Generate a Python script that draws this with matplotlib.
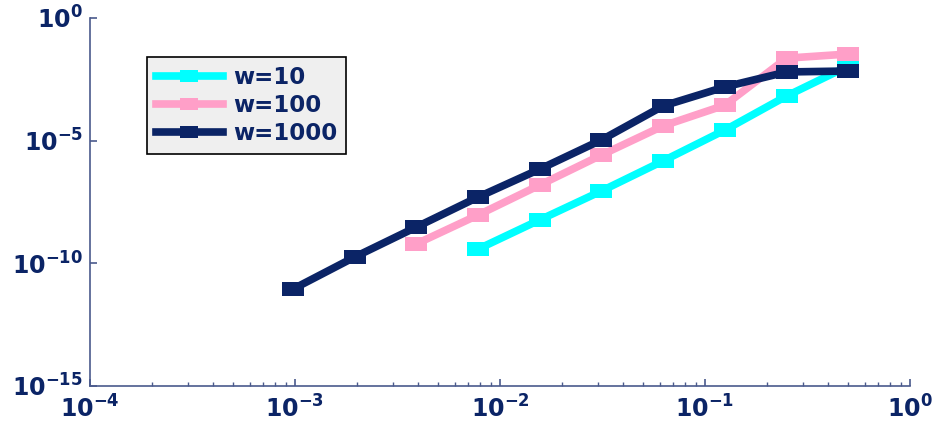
"""
Log-log convergence plot for three weights.
"""

import matplotlib as mpl

mpl.use("Agg")

import matplotlib.pyplot as plt
import numpy as np
from matplotlib.ticker import FuncFormatter, LogLocator, NullFormatter

# step sizes h = 0.5 / 2^k
h_values = [0.5, 0.25, 0.125, 0.0625, 0.03125, 0.015625,
            0.0078125, 0.00390625, 0.001953125, 0.0009765625]

err_w10 = [1.1e-2, 6.6e-4, 2.7e-5, 1.5e-6, 8.9e-8, 5.9e-9, 3.8e-10]
err_w100 = [3.4e-2, 2.3e-2, 2.8e-4, 4.0e-5, 2.6e-6, 1.55e-7, 9.3e-9, 6.2e-10]
err_w1000 = [6.9e-3, 6.3e-3, 1.55e-3, 2.6e-4, 1.07e-5, 6.9e-7,
             5.0e-8, 3.0e-9, 1.8e-10, 8.9e-12]

labels = ["w=10", "w=100", "w=1000"]
colors = ["#00FFFF", "#FF9FC8", "#0B2466"]

NAVY = "#0B2466"
AXIS = "#4A5A8C"

plt.rcParams["font.family"] = ["DejaVu Sans"]

# squares look wider than tall in the original output
wide_square = [(-1.5, -1.0), (1.5, -1.0), (1.5, 1.0), (-1.5, 1.0), (-1.5, -1.0)]


def bold_power(value, pos):
    exponent = int(np.round(np.log10(value)))
    return r"$\mathbf{10^{%d}}$" % exponent


def main():
    fig = plt.figure(figsize=(9.37, 4.25), dpi=100)
    ax = fig.add_axes([0.0961, 0.0918, 0.8751, 0.8659])

    series = [err_w10, err_w100, err_w1000]
    for errs, label, color in zip(series, labels, colors):
        ax.plot(h_values[:len(errs)], errs, color=color, lw=5.5,
                marker=wide_square, markersize=16, markeredgewidth=0,
                label=label, solid_joinstyle="miter")

    ax.set_xscale("log")
    ax.set_yscale("log")
    ax.set_xlim(1e-4, 1e0)
    ax.set_ylim(1e-15, 1e0)
    ax.set_xticks([1e-4, 1e-3, 1e-2, 1e-1, 1e0])
    ax.set_yticks([1e-15, 1e-10, 1e-5, 1e0])
    ax.xaxis.set_major_formatter(FuncFormatter(bold_power))
    ax.yaxis.set_major_formatter(FuncFormatter(bold_power))
    ax.xaxis.set_minor_locator(LogLocator(base=10, subs=range(2, 10)))
    ax.xaxis.set_minor_formatter(NullFormatter())
    ax.yaxis.set_minor_locator(plt.NullLocator())

    for side in ("top", "right"):
        ax.spines[side].set_visible(False)
    for side in ("left", "bottom"):
        ax.spines[side].set_color(AXIS)
        ax.spines[side].set_linewidth(1.2)

    ax.tick_params(which="both", direction="in", color=AXIS, labelcolor=NAVY,
                   labelsize=17)
    ax.tick_params(which="major", length=5, width=1.2)
    ax.tick_params(which="minor", length=3, width=1.0)
    ax.tick_params(axis="x", pad=7)
    ax.tick_params(axis="y", pad=5)

    leg = ax.legend(loc="upper left", bbox_to_anchor=(0.0695, 0.894),
                    borderaxespad=0, fancybox=False, frameon=True,
                    prop={"weight": "bold", "size": 16.5}, handlelength=2.9,
                    labelspacing=0.22, borderpad=0.4, handletextpad=0.45,
                    markerscale=0.85)
    leg.get_frame().set_facecolor("#EFEFEF")
    leg.get_frame().set_edgecolor("black")
    leg.get_frame().set_linewidth(1.2)
    leg.get_frame().set_alpha(1)
    for text in leg.get_texts():
        text.set_color(NAVY)

    fig.savefig("out.png", dpi=100)
    plt.close(fig)


if __name__ == "__main__":
    main()
